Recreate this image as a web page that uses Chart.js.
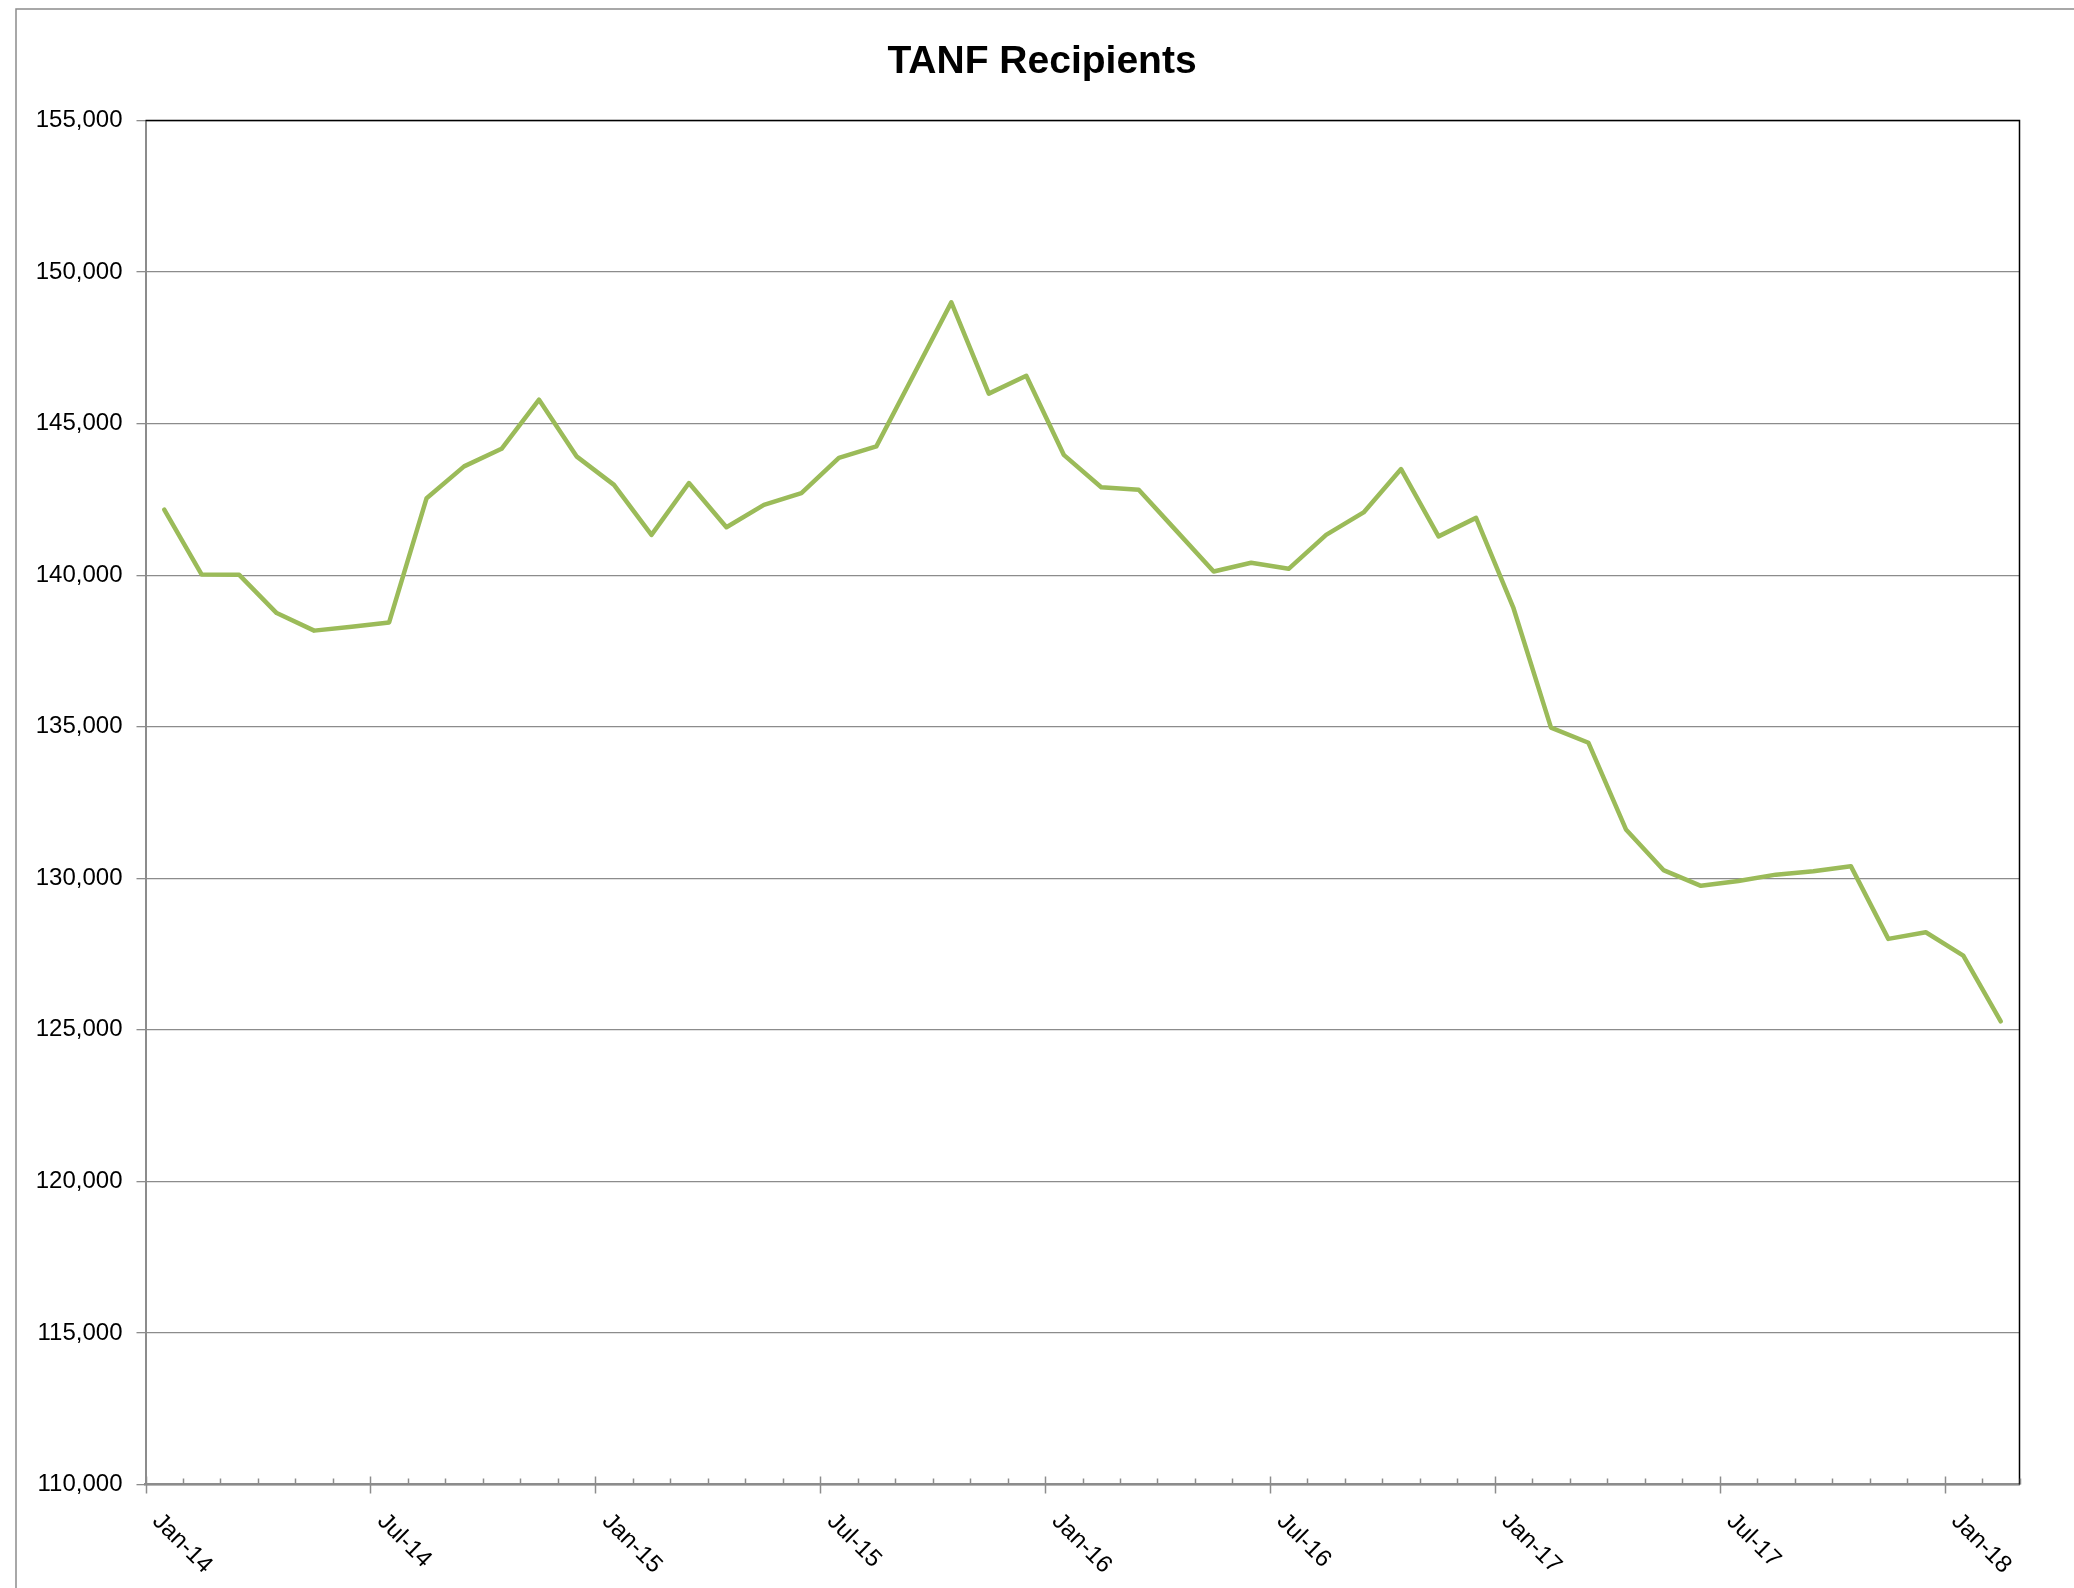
<!DOCTYPE html>
<html>
<head>
<meta charset="utf-8">
<title>TANF Recipients</title>
<script src="https://cdn.jsdelivr.net/npm/chart.js@4.4.1/dist/chart.umd.min.js"></script>
<style>
  body { margin: 0; background: #fff; }
  canvas { display: block; }
</style>
</head>
<body>
<canvas id="chart" width="2074" height="1588" style="width:2074px;height:1588px"></canvas>
<script>
// Monthly categories, Jan-14 to Feb-18
const months = [
  'Jan-14', 'Feb-14', 'Mar-14', 'Apr-14', 'May-14', 'Jun-14', 'Jul-14', 'Aug-14', 'Sep-14', 'Oct-14', 'Nov-14', 'Dec-14',
  'Jan-15', 'Feb-15', 'Mar-15', 'Apr-15', 'May-15', 'Jun-15', 'Jul-15', 'Aug-15', 'Sep-15', 'Oct-15', 'Nov-15', 'Dec-15',
  'Jan-16', 'Feb-16', 'Mar-16', 'Apr-16', 'May-16', 'Jun-16', 'Jul-16', 'Aug-16', 'Sep-16', 'Oct-16', 'Nov-16', 'Dec-16',
  'Jan-17', 'Feb-17', 'Mar-17', 'Apr-17', 'May-17', 'Jun-17', 'Jul-17', 'Aug-17', 'Sep-17', 'Oct-17', 'Nov-17', 'Dec-17',
  'Jan-18', 'Feb-18'
];

// TANF recipients per month
const recipients = [
  142160, 140020, 140010, 138750, 138170, 138300, 138440, 142540, 143590, 144170, 145790, 143920,
  142980, 141330, 143040, 141580, 142320, 142710, 143870, 144250, 146620, 149000, 145990, 146580,
  143970, 142900, 142820, 141470, 140120, 140410, 140210, 141330, 142070, 143500, 141280, 141890,
  138910, 134970, 134470, 131610, 130270, 129750, 129910, 130120, 130230, 130400, 128000, 128220,
  127450, 125280
];

// Category labels that are printed under the x axis
const shownLabels = ['Jan-14', 'Jul-14', 'Jan-15', 'Jul-15', 'Jan-16', 'Jul-16', 'Jan-17', 'Jul-17', 'Jan-18'];

// Value axis range
const yMin = 110000;
const yMax = 155000;
const yStep = 5000;

const chartTitle = 'TANF Recipients';
const gridGray = '#8c8c8c';
const fontFamily = '"Liberation Sans", Arial, sans-serif';

// Outer frame, white background and the title
const frame = {
  id: 'frame',
  beforeDraw(chart) {
    const ctx = chart.ctx;
    ctx.save();
    ctx.fillStyle = '#fff';
    ctx.fillRect(0, 0, chart.width, chart.height);
    ctx.strokeStyle = gridGray;
    ctx.lineWidth = 1.5;
    ctx.strokeRect(16, 9, chart.width + 20, chart.height + 20);

    ctx.fillStyle = '#000';
    ctx.font = 'bold 39px ' + fontFamily;
    ctx.textAlign = 'center';
    ctx.textBaseline = 'alphabetic';
    ctx.fillText(chartTitle, 1042, 73);
    ctx.restore();
  }
};

// Black top and right edges of the plot area
const plotBorder = {
  id: 'plotBorder',
  beforeDatasetsDraw(chart) {
    const { left, top, right, bottom } = chart.chartArea;
    const ctx = chart.ctx;
    ctx.save();
    ctx.strokeStyle = '#000';
    ctx.lineWidth = 1.5;
    ctx.beginPath();
    ctx.moveTo(left, top);
    ctx.lineTo(right, top);
    ctx.lineTo(right, bottom);
    ctx.stroke();
    ctx.restore();
  }
};

// Excel style category ticks (between months) and diagonal labels
const xAxisExtras = {
  id: 'xAxisExtras',
  afterDraw(chart) {
    const x = chart.scales.x;
    const ctx = chart.ctx;
    const axisY = chart.chartArea.bottom;
    ctx.save();
    ctx.strokeStyle = gridGray;
    ctx.lineWidth = 1.5;
    for (let i = 0; i <= months.length; i++) {
      const px = Math.round(x.getPixelForValue(i - 0.5)) + 0.5;
      const major = i < months.length && shownLabels.includes(months[i]);
      ctx.beginPath();
      ctx.moveTo(px, axisY - (major ? 8 : 6));
      ctx.lineTo(px, axisY + (major ? 9 : 0));
      ctx.stroke();
    }

    ctx.font = '24px ' + fontFamily;
    ctx.fillStyle = '#000';
    ctx.textAlign = 'left';
    ctx.textBaseline = 'middle';
    months.forEach((m, i) => {
      if (!shownLabels.includes(m)) return;
      const px = x.getPixelForValue(i);
      ctx.save();
      ctx.translate(px - 8, axisY + 33);
      ctx.rotate(Math.PI / 4);
      ctx.fillText(m, 0, 0);
      ctx.restore();
    });
    ctx.restore();
  }
};

const ctx = document.getElementById('chart').getContext('2d');
const chart = new Chart(ctx, {
  type: 'line',
  data: {
    labels: months,
    datasets: [{
      label: 'TANF Recipients',
      data: recipients,
      borderColor: '#9bbb59',
      borderWidth: 4.5,
      borderJoinStyle: 'round',
      borderCapStyle: 'round',
      pointRadius: 0,
      tension: 0,
      fill: false
    }]
  },
  options: {
    responsive: false,
    animation: false,
    devicePixelRatio: 1,
    layout: { padding: { left: 16, right: 54.5, top: 120.5, bottom: 0 } },
    plugins: {
      legend: { display: false },
      tooltip: { enabled: false },
      title: { display: false }
    },
    scales: {
      x: {
        offset: true,
        ticks: { display: false },
        grid: { display: false },
        border: { display: true, color: gridGray, width: 2.5 },
        afterFit(scale) { scale.height = 103.5; }
      },
      y: {
        min: yMin,
        max: yMax,
        ticks: {
          stepSize: yStep,
          color: '#000',
          padding: 14,
          font: { family: fontFamily, size: 24 },
          callback: v => v.toLocaleString('en-US')
        },
        grid: { color: gridGray, lineWidth: 1.3, tickLength: 9 },
        border: { color: gridGray, width: 2 },
        afterFit(scale) { scale.width = 129.5; }
      }
    }
  },
  plugins: [frame, plotBorder, xAxisExtras]
});
</script>
</body>
</html>
